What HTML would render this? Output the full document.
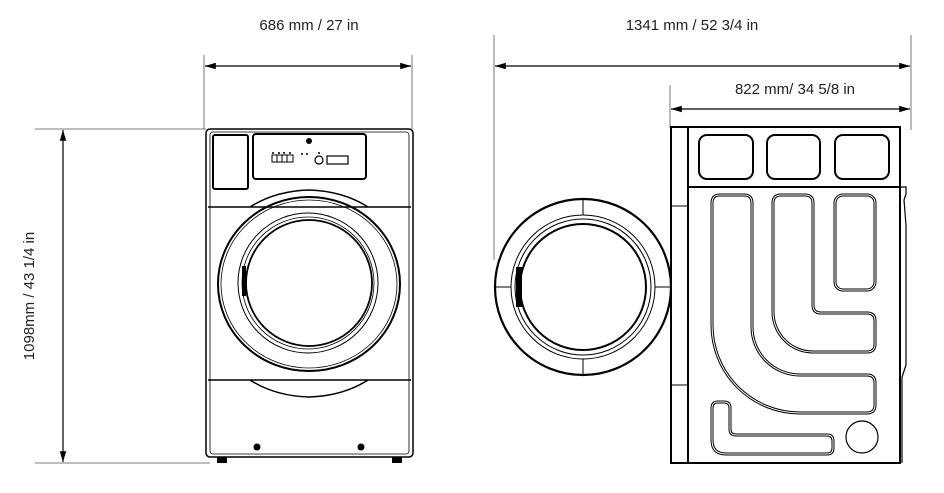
<!DOCTYPE html>
<html><head><style>
html,body{margin:0;padding:0;background:#fff;}
svg{display:block;}
text{font-family:"Liberation Sans",sans-serif;font-size:15px;fill:#222;}
</style></head><body>
<svg width="944" height="493" viewBox="0 0 944 493" xmlns="http://www.w3.org/2000/svg">
<defs>
<marker id="a" viewBox="0 0 10 10" refX="10" refY="5" markerWidth="9" markerHeight="9" orient="auto-start-reverse"><path d="M0,2 L10,5 L0,8 z" fill="#000"/></marker>
</defs>
<g stroke="#555" stroke-width="0.8" fill="none">
<line x1="204" y1="55" x2="204" y2="129"/><line x1="412" y1="55" x2="412" y2="129"/>
<line x1="494" y1="35" x2="494" y2="260"/><line x1="911" y1="35" x2="911" y2="130"/>
<line x1="670" y1="85" x2="670" y2="128"/>
<line x1="35" y1="129" x2="206" y2="129"/><line x1="35" y1="463" x2="210" y2="463"/>
</g>
<g stroke="#000" stroke-width="1.2">
<line x1="205" y1="66" x2="411" y2="66" marker-start="url(#a)" marker-end="url(#a)"/>
<line x1="495" y1="66" x2="910" y2="66" marker-start="url(#a)" marker-end="url(#a)"/>
<line x1="671" y1="109" x2="910" y2="109" marker-start="url(#a)" marker-end="url(#a)"/>
<line x1="63" y1="130" x2="63" y2="462" marker-start="url(#a)" marker-end="url(#a)"/>
</g>
<text x="309" y="30" text-anchor="middle">686 mm / 27 in</text>
<text x="692" y="30" text-anchor="middle">1341 mm / 52 3/4 in</text>
<text x="795" y="94" text-anchor="middle">822 mm/ 34 5/8 in</text>
<text transform="translate(34,296) rotate(-90)" text-anchor="middle">1098mm / 43 1/4 in</text>

<!-- front machine -->
<g fill="none" stroke="#000" stroke-width="1.5">
<rect x="206" y="129" width="207" height="328" rx="4"/>
<rect x="210" y="132" width="199" height="322" rx="3" stroke-width="0.8"/>
<rect x="213" y="135" width="35" height="54" rx="2" stroke-width="2"/>
<rect x="253" y="134" width="113" height="45" rx="3" stroke-width="2"/>
<rect x="272" y="155" width="5" height="7" stroke-width="1"/><rect x="277" y="155" width="5" height="7" stroke-width="1"/><rect x="282" y="155" width="5" height="7" stroke-width="1"/><rect x="287" y="155" width="6" height="7" stroke-width="1"/>
<circle cx="319" cy="160" r="4" stroke-width="1.2"/>
<rect x="327" y="156" width="21" height="8" stroke-width="1.2"/>
<line x1="208" y1="207" x2="411" y2="207"/>
<line x1="208" y1="380" x2="411" y2="380"/>
<path d="M250,207 Q275,191 309,190 Q343,191 368,207"/>
<path d="M250,380 Q275,396 309,397 Q343,396 368,380"/>
<ellipse cx="309" cy="284" rx="91" ry="87" stroke-width="2"/>
<ellipse cx="309" cy="284" rx="88" ry="84" stroke-width="0.8"/>
<circle cx="308" cy="283" r="70" stroke-width="1"/>
<circle cx="308" cy="283" r="66" stroke-width="0.8"/>
<circle cx="309" cy="283" r="63" stroke-width="1.8"/>
</g>
<rect x="242" y="266" width="4" height="30" fill="#000"/>
<circle cx="309" cy="141" r="3" fill="#000"/>
<g fill="#000"><circle cx="273" cy="153" r="1"/><circle cx="279" cy="153" r="1"/><circle cx="284" cy="153" r="1"/><circle cx="290" cy="153" r="1"/><circle cx="302" cy="154" r="1"/><circle cx="307" cy="154" r="1"/><circle cx="319" cy="153" r="1"/>
<circle cx="257" cy="447" r="3.5"/><circle cx="361" cy="447" r="3.5"/>
<rect x="217" y="457" width="10" height="6"/><rect x="392" y="457" width="10" height="6"/></g>

<!-- drum -->
<g fill="none" stroke="#000">
<circle cx="583" cy="287" r="88" stroke-width="2.2"/>
<circle cx="583" cy="287" r="72" stroke-width="1"/>
<circle cx="583" cy="287" r="68" stroke-width="1"/>
<circle cx="583" cy="287" r="63" stroke-width="2"/>
<line x1="583" y1="199" x2="583" y2="215" stroke-width="1"/><line x1="583" y1="359" x2="583" y2="375" stroke-width="1"/>
<line x1="495" y1="287" x2="511" y2="287" stroke-width="1"/><line x1="655" y1="287" x2="671" y2="287" stroke-width="1"/>
</g>
<rect x="516" y="267" width="6" height="40" fill="#000"/>

<!-- side -->
<g fill="none" stroke="#000">
<rect x="671" y="127" width="229" height="336" fill="#fff" stroke-width="2"/>
<line x1="688" y1="127" x2="688" y2="463" stroke-width="2"/>
<line x1="688" y1="187" x2="900" y2="187" stroke-width="2"/>
<line x1="671" y1="206" x2="688" y2="206" stroke-width="1"/><line x1="671" y1="385" x2="688" y2="385" stroke-width="1"/>
<path d="M900,187 L906,187 L906,194 L904,200 L906,225 L906,365 L902,377 L902,463" stroke-width="1.2"/>
<g stroke-width="2"><rect x="699" y="135" width="54" height="44" rx="8"/><rect x="767" y="135" width="53" height="44" rx="8"/><rect x="835" y="135" width="54" height="44" rx="8"/></g>
</g>
<g fill="none" stroke="#000" stroke-width="3">
<path d="M712,203 Q712,195 720,195 L744,195 Q752,195 752,203 L752,327 A48,48 0 0 0 800,375 L867,375 Q875,375 875,383 L875,405 Q875,413 867,413 L800,413 A88,88 0 0 1 712,325 Z"/>
<path d="M773,203 Q773,195 781,195 L805,195 Q813,195 813,203 L813,305 Q813,313 821,313 L867,313 Q875,313 875,321 L875,344 Q875,352 867,352 L813,352 A40,40 0 0 1 773,312 Z"/>
<rect x="835" y="195" width="40" height="95" rx="8"/>
<path d="M712,408 Q712,402 718,402 L724,402 Q730,402 730,408 L730,429 Q730,435 736,435 L827,435 Q833,435 833,441 L833,448 Q833,454 827,454 L726,454 Q712,454 712,440 Z"/>
</g>
<g fill="none" stroke="#fff" stroke-width="1">
<path d="M712,203 Q712,195 720,195 L744,195 Q752,195 752,203 L752,327 A48,48 0 0 0 800,375 L867,375 Q875,375 875,383 L875,405 Q875,413 867,413 L800,413 A88,88 0 0 1 712,325 Z"/>
<path d="M773,203 Q773,195 781,195 L805,195 Q813,195 813,203 L813,305 Q813,313 821,313 L867,313 Q875,313 875,321 L875,344 Q875,352 867,352 L813,352 A40,40 0 0 1 773,312 Z"/>
<rect x="835" y="195" width="40" height="95" rx="8"/>
<path d="M712,408 Q712,402 718,402 L724,402 Q730,402 730,408 L730,429 Q730,435 736,435 L827,435 Q833,435 833,441 L833,448 Q833,454 827,454 L726,454 Q712,454 712,440 Z"/>
</g>
<circle cx="862" cy="437" r="16" fill="none" stroke="#000" stroke-width="1.2"/>
</svg>
</body></html>
